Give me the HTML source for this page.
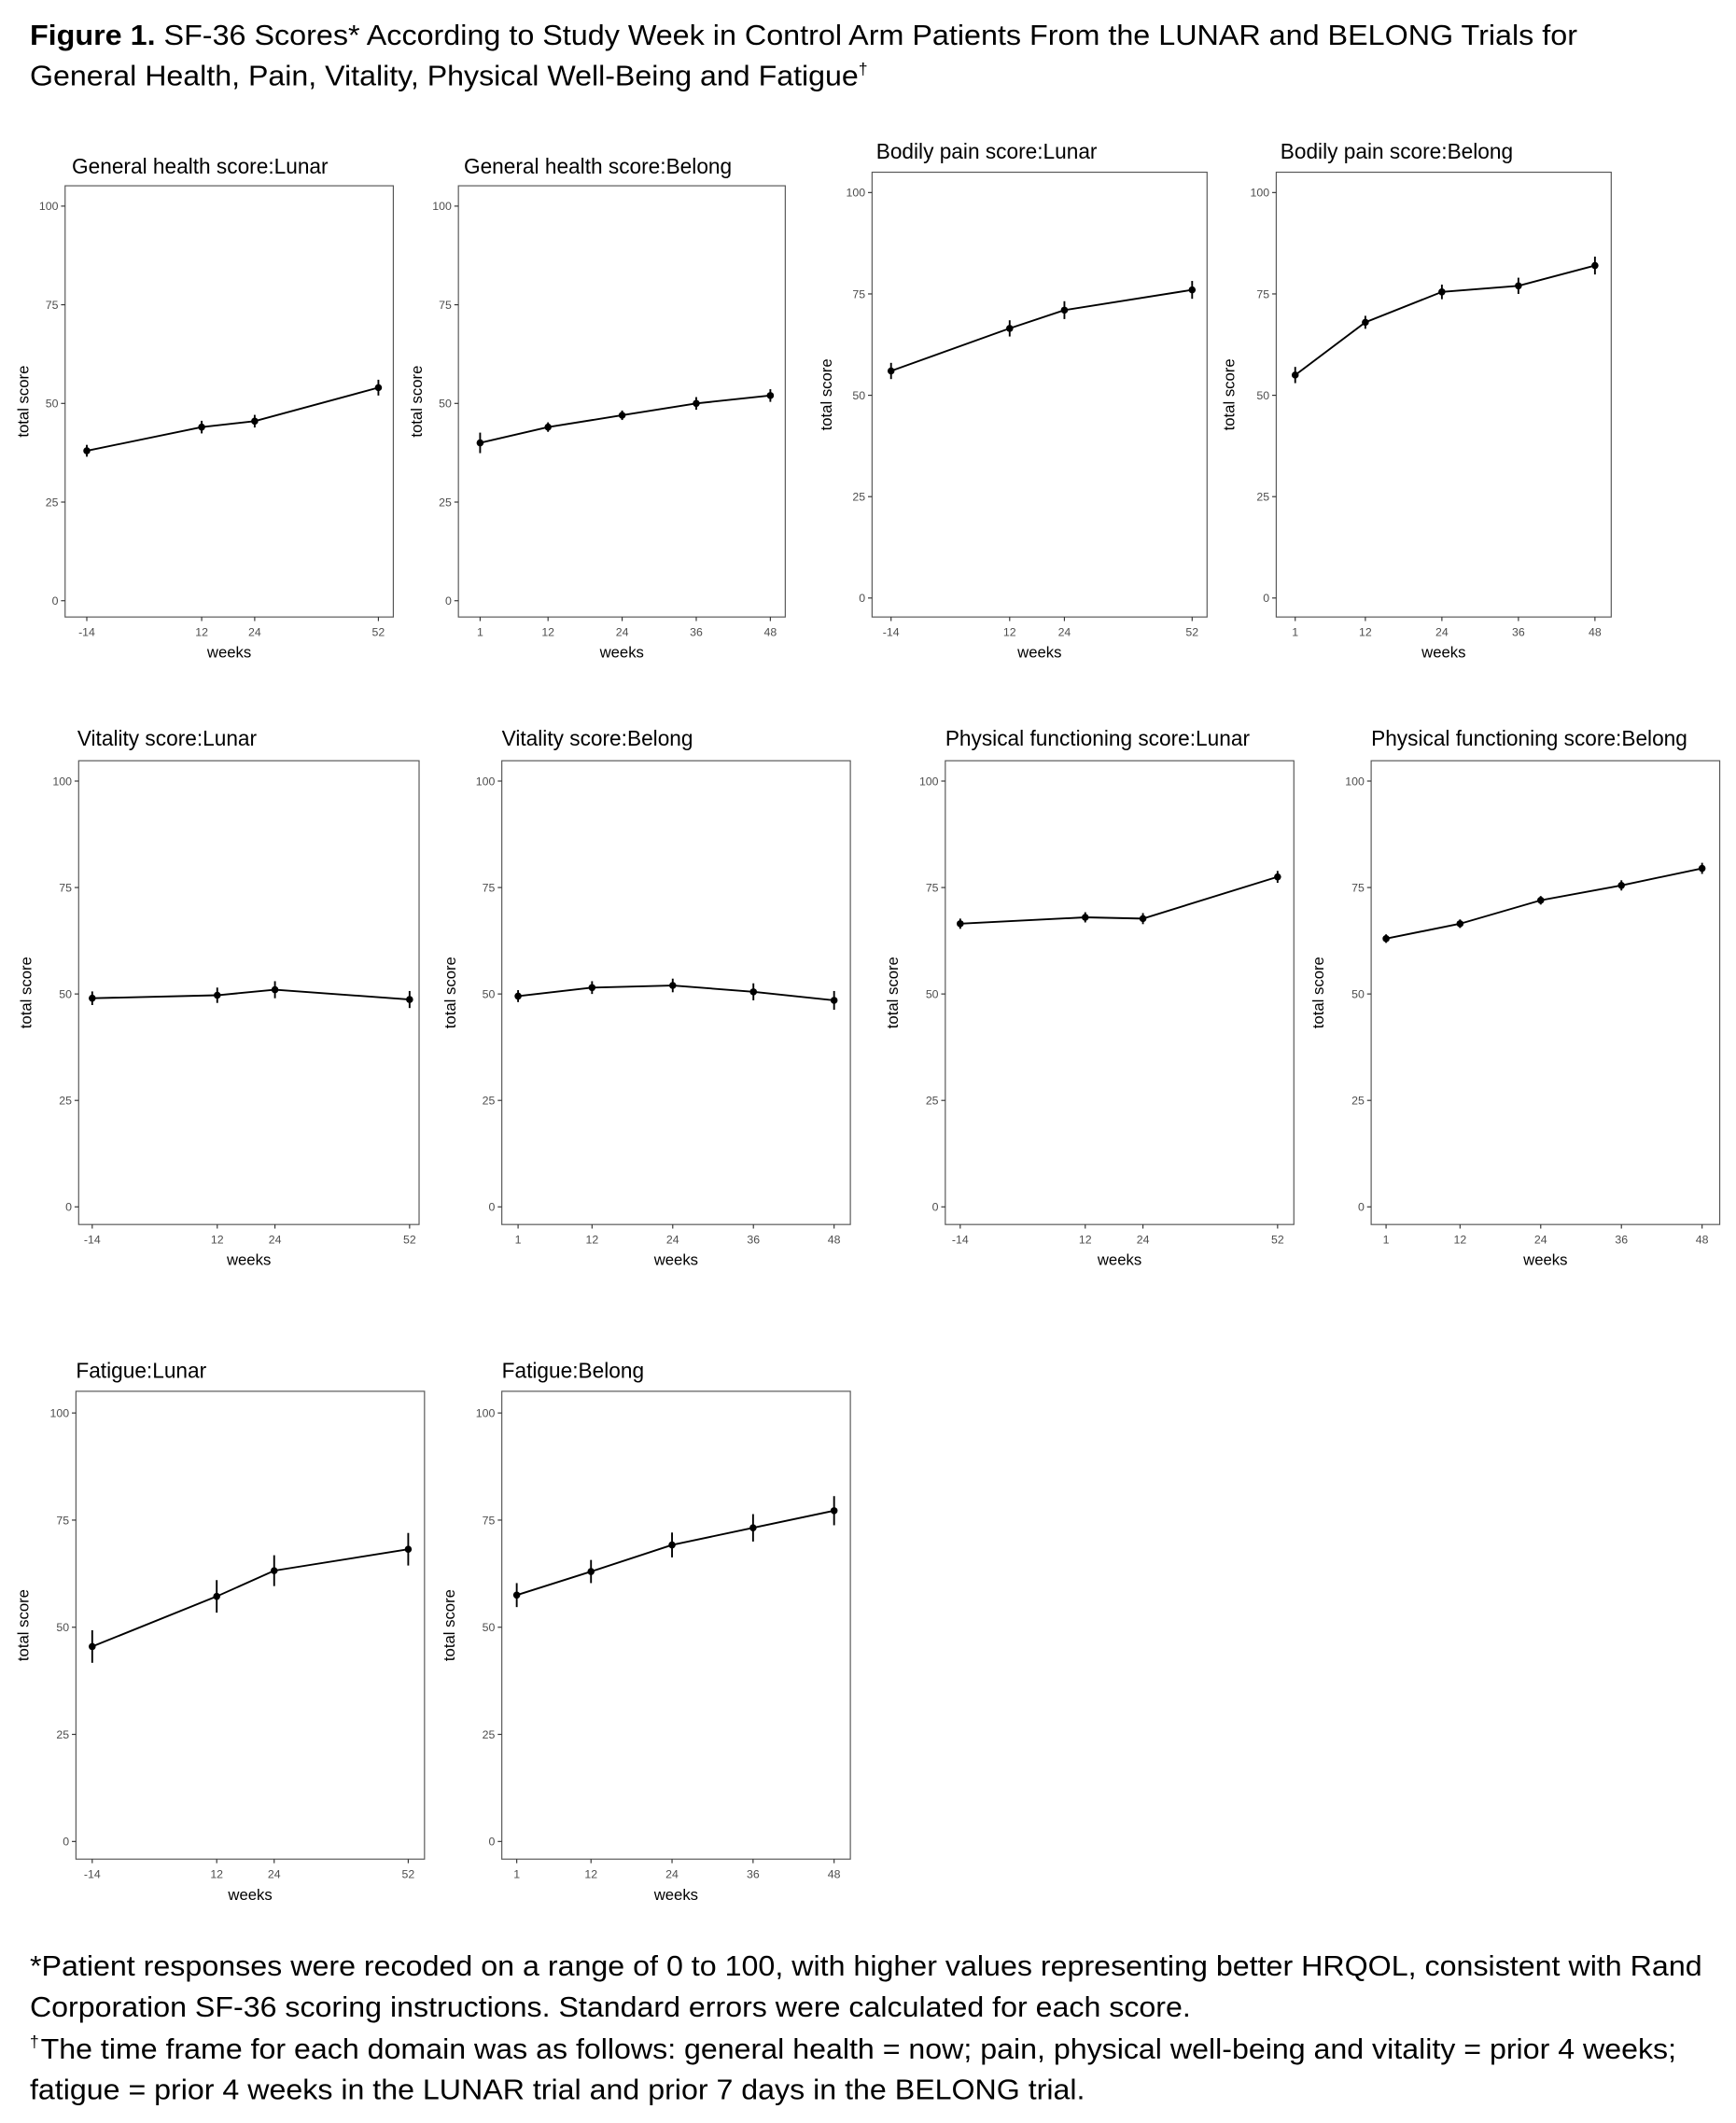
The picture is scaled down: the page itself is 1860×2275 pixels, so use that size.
<!DOCTYPE html>
<html><head><meta charset="utf-8">
<style>
html,body{margin:0;padding:0;background:#fff;}
svg{display:block;}
text{font-family:"Liberation Sans",Arial,sans-serif;}
</style></head>
<body>
<svg id="fig" width="1860" height="2275" viewBox="0 0 1280 1565.6" xmlns="http://www.w3.org/2000/svg">
<text x="22" y="33" font-size="21" fill="#000" textLength="1141" lengthAdjust="spacingAndGlyphs"><tspan font-weight="bold">Figure 1.</tspan> SF-36 Scores* According to Study Week in Control Arm Patients From the LUNAR and BELONG Trials for</text>
<text x="22" y="63" font-size="21" fill="#000"><tspan textLength="611" lengthAdjust="spacingAndGlyphs">General Health, Pain, Vitality, Physical Well-Being and Fatigue</tspan><tspan font-size="12" dy="-8">†</tspan></text>
<g id="panels"></g>
<text x="22" y="1457" font-size="21" textLength="1233" lengthAdjust="spacingAndGlyphs">*Patient responses were recoded on a range of 0 to 100, with higher values representing better HRQOL, consistent with Rand</text>
<text x="22" y="1487" font-size="21" textLength="856" lengthAdjust="spacingAndGlyphs">Corporation SF-36 scoring instructions. Standard errors were calculated for each score.</text>
<text x="22" y="1510" font-size="12">†</text>
<text x="30" y="1518" font-size="21" textLength="1206" lengthAdjust="spacingAndGlyphs">The time frame for each domain was as follows: general health = now; pain, physical well-being and vitality = prior 4 weeks;</text>
<text x="22" y="1548" font-size="21" textLength="778" lengthAdjust="spacingAndGlyphs">fatigue = prior 4 weeks in the LUNAR trial and prior 7 days in the BELONG trial.</text>
</svg>
<script>
// ---- data ----
const lunarWeeks = [-14, 12, 24, 52];
const belongWeeks = [1, 12, 24, 36, 48];
const yTicks = [0, 25, 50, 75, 100];

const ghLunarMean = [38, 44, 45.5, 54];
const ghLunarSE = [1.5, 1.6, 1.6, 2];
const ghBelongMean = [40, 44, 47, 50, 52];
const ghBelongSE = [2.6, 1.2, 1.2, 1.6, 1.6];
const painLunarMean = [56, 66.5, 71, 76];
const painLunarSE = [2, 2, 2.2, 2.2];
const painBelongMean = [55, 68, 75.5, 77, 82];
const painBelongSE = [2, 1.6, 1.8, 2, 2.2];
const vitLunarMean = [49, 49.7, 51, 48.7];
const vitLunarSE = [1.6, 1.8, 2, 2];
const vitBelongMean = [49.5, 51.5, 52, 50.5, 48.5];
const vitBelongSE = [1.4, 1.5, 1.6, 2, 2.2];
const pfLunarMean = [66.5, 68, 67.7, 77.5];
const pfLunarSE = [1.2, 1.2, 1.3, 1.4];
const pfBelongMean = [63, 66.5, 72, 75.5, 79.5];
const pfBelongSE = [1, 1, 1, 1.2, 1.3];
const fatLunarMean = [45.5, 57.2, 63.2, 68.2];
const fatLunarSE = [3.8, 3.8, 3.6, 3.8];
const fatBelongMean = [57.5, 63, 69.2, 73.2, 77.2];
const fatBelongSE = [2.8, 2.7, 2.9, 3.2, 3.4];

// ---- layout (pixel geometry only) ----
const panels = [
 {id:'gh-lunar', title:'General health score:Lunar', wk:lunarWeeks, m:ghLunarMean, se:ghLunarSE, box:[48,137,290,455], xp:[64,279], yp:[443,152], tx:53, ty:128, yl:20},
 {id:'gh-belong', title:'General health score:Belong', wk:belongWeeks, m:ghBelongMean, se:ghBelongSE, box:[338,137,579,455], xp:[354,568], yp:[443,152], tx:342, ty:128, yl:310},
 {id:'pain-lunar', title:'Bodily pain score:Lunar', wk:lunarWeeks, m:painLunarMean, se:painLunarSE, box:[643,127,890,455], xp:[657,879], yp:[441,142], tx:646, ty:117, yl:612},
 {id:'pain-belong', title:'Bodily pain score:Belong', wk:belongWeeks, m:painBelongMean, se:painBelongSE, box:[941,127,1188,455], xp:[955,1176], yp:[441,142], tx:944, ty:117, yl:909},
 {id:'vit-lunar', title:'Vitality score:Lunar', wk:lunarWeeks, m:vitLunarMean, se:vitLunarSE, box:[58,561,309,903], xp:[68,302], yp:[890,576], tx:57, ty:550, yl:22},
 {id:'vit-belong', title:'Vitality score:Belong', wk:belongWeeks, m:vitBelongMean, se:vitBelongSE, box:[370,561,627,903], xp:[382,615], yp:[890,576], tx:370, ty:550, yl:335},
 {id:'pf-lunar', title:'Physical functioning score:Lunar', wk:lunarWeeks, m:pfLunarMean, se:pfLunarSE, box:[697,561,954,903], xp:[708,942], yp:[890,576], tx:697, ty:550, yl:661},
 {id:'pf-belong', title:'Physical functioning score:Belong', wk:belongWeeks, m:pfBelongMean, se:pfBelongSE, box:[1011,561,1268,903], xp:[1022,1255], yp:[890,576], tx:1011, ty:550, yl:975},
 {id:'fat-lunar', title:'Fatigue:Lunar', wk:lunarWeeks, m:fatLunarMean, se:fatLunarSE, box:[56,1026,313,1371], xp:[68,301], yp:[1358,1042], tx:56, ty:1016, yl:20},
 {id:'fat-belong', title:'Fatigue:Belong', wk:belongWeeks, m:fatBelongMean, se:fatBelongSE, box:[370,1026,627,1371], xp:[381,615], yp:[1358,1042], tx:370, ty:1016, yl:334}
];
const NS='http://www.w3.org/2000/svg';
const root=document.getElementById('panels');
function mk(tag, attrs, parent){const e=document.createElementNS(NS,tag);for(const k in attrs)e.setAttribute(k,attrs[k]);parent.appendChild(e);return e;}
panels.forEach(p=>{
  const g=mk('g',{},root);
  
  
  const [x0,y0,x1,y1]=p.box;
  const wmin=p.wk[0], wmax=p.wk[p.wk.length-1];
  const xs=w=>p.xp[0]+(w-wmin)*(p.xp[1]-p.xp[0])/(wmax-wmin);
  const ys=v=>p.yp[0]+v*(p.yp[1]-p.yp[0])/100;
  const t=mk('text',{x:p.tx,y:p.ty,'font-size':'15.6',fill:'#000'},g);
  t.textContent=p.title;
  
  
  const b=mk('rect',{x:x0,y:y0,width:x1-x0,height:y1-y0,fill:'none',stroke:'#555','stroke-width':'0.8'},g);
  
  
  yTicks.forEach(v=>{
    const y=ys(v);
    mk('line',{x1:x0-3,x2:x0,y1:y,y2:y,stroke:'#333','stroke-width':'0.8'},g);
    const l=mk('text',{x:x0-5,y:y+3,'font-size':'8.5','text-anchor':'end',fill:'#4d4d4d'},g);
    l.textContent=v;
    
    
  });
  p.wk.forEach(w=>{
    const x=xs(w);
    mk('line',{x1:x,x2:x,y1:y1,y2:y1+3,stroke:'#333','stroke-width':'0.8'},g);
    const l=mk('text',{x:x,y:y1+14,'font-size':'8.5','text-anchor':'middle',fill:'#4d4d4d'},g);
    l.textContent=w;
    
    
  });
  const xt=mk('text',{x:(x0+x1)/2,y:y1+30,'font-size':'11.5','text-anchor':'middle',fill:'#000'},g);
  xt.textContent='weeks';
  
  
  const cy=(y0+y1)/2;
  const yt=mk('text',{x:p.yl+1,y:cy,'font-size':'11.5','text-anchor':'middle',fill:'#000',transform:`rotate(-90 ${p.yl+1} ${cy})`},g);
  yt.textContent='total score';
  
  
  const pts=p.wk.map((w,i)=>xs(w)+','+ys(p.m[i])).join(' ');
  const ln=mk('polyline',{points:pts,fill:'none',stroke:'#000','stroke-width':'1.3'},g);
  
  
  p.wk.forEach((w,i)=>{
    const x=xs(w);
    const eb=mk('line',{x1:x,x2:x,y1:ys(p.m[i]-p.se[i]),y2:ys(p.m[i]+p.se[i]),stroke:'#000','stroke-width':'1.3'},g);
    
    
    const c=mk('circle',{cx:x,cy:ys(p.m[i]),r:'2.6',fill:'#000'},g);
    
    
  });
});
</script>
</body></html>
